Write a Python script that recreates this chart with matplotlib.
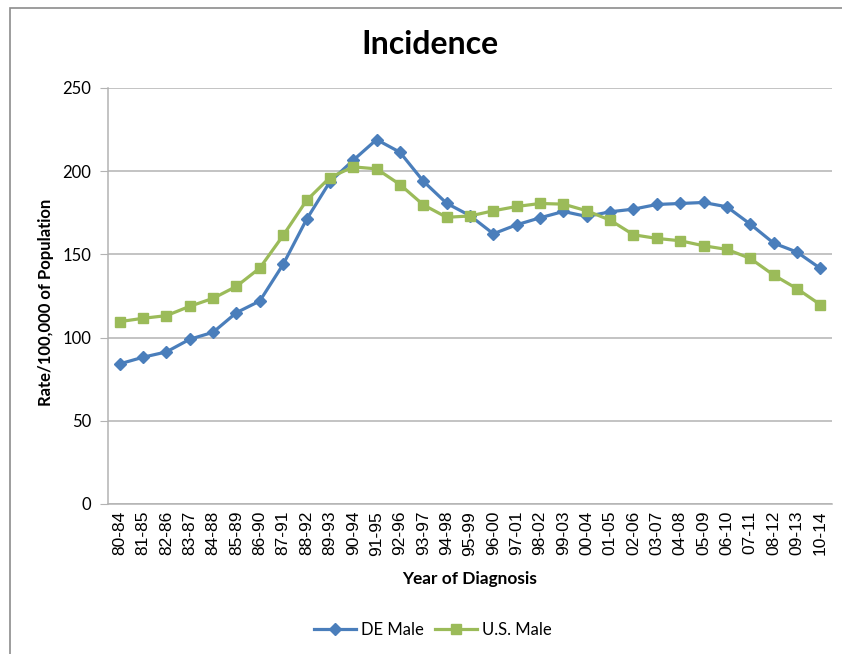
import matplotlib
matplotlib.use("Agg")
import matplotlib.pyplot as plt
from matplotlib.patches import Rectangle

categories = ["80-84", "81-85", "82-86", "83-87", "84-88", "85-89", "86-90", "87-91",
              "88-92", "89-93", "90-94", "91-95", "92-96", "93-97", "94-98", "95-99",
              "96-00", "97-01", "98-02", "99-03", "00-04", "01-05", "02-06", "03-07",
              "04-08", "05-09", "06-10", "07-11", "08-12", "09-13", "10-14"]

de_male = [84.2, 88.2, 91.4, 99.0, 103.2, 115.0, 122.0, 144.0, 171.0, 193.6,
           206.6, 219.0, 211.4, 194.0, 180.7, 173.3, 162.4, 167.8, 172.0, 175.8,
           172.8, 175.6, 177.2, 180.0, 180.6, 181.2, 178.6, 168.2, 156.8, 151.4, 141.6]
us_male = [109.6, 111.6, 113.2, 118.8, 123.6, 130.8, 141.8, 161.4, 182.4, 196.2,
           202.6, 201.4, 192.0, 179.8, 172.3, 173.1, 176.2, 178.8, 180.6, 180.2,
           176.2, 170.6, 161.8, 159.6, 158.2, 155.2, 153.0, 147.6, 137.6, 129.4, 119.8]

yticks = [0, 50, 100, 150, 200, 250]

W, H = 842, 654
fig = plt.figure(figsize=(W / 100, H / 100), dpi=100)
fig.patch.set_facecolor("white")

# outer chart border (partially clipped by figure edge)
fig.patches.append(Rectangle((10 / W, -0.05), 1.2, 1 - 8 / H + 0.05,
                             transform=fig.transFigure, fill=False,
                             edgecolor="#8c8c8c", linewidth=1.2))

ax = fig.add_axes([108 / W, 1 - 504 / H, (832 - 108) / W, (504 - 88) / H])
x = list(range(len(categories)))
ax.plot(x, de_male, color="#4A7EBB", linewidth=2.3, marker="D", markersize=6.5,
        label="DE Male", zorder=3)
ax.plot(x, us_male, color="#9BBB59", linewidth=2.3, marker="s", markersize=7.5,
        label="U.S. Male", zorder=3)

ax.set_xlim(-0.5, len(categories) - 0.5)
ax.set_ylim(0, 250)
ax.set_yticks(yticks)
ax.set_yticklabels([str(v) for v in yticks], family="Lato", fontsize=12)
ax.set_xticks(x)
ax.set_xticklabels(categories, rotation=90, family="Liberation Sans", fontsize=12.5)
ax.yaxis.grid(True, color="#b3b3b3", linewidth=1.1)
ax.set_axisbelow(True)
for s in ["top", "right"]:
    ax.spines[s].set_visible(False)
ax.spines["left"].set_color("#b3b3b3")
ax.spines["bottom"].set_color("#b3b3b3")
ax.spines["left"].set_linewidth(1.1)
ax.spines["bottom"].set_linewidth(1.1)
ax.tick_params(axis="y", length=6, color="#b3b3b3", pad=6)
ax.tick_params(axis="x", length=0, pad=5)

fig.text(430 / W, 1 - 45 / H, "Incidence", ha="center", va="center",
         family="Lato", fontweight="bold", fontsize=23)
fig.text(46 / W, 1 - 302 / H, "Rate/100,000 of Population", ha="center",
         va="center", rotation=90, family="Lato", fontweight="bold", fontsize=12)
fig.text(470 / W, 1 - 579 / H, "Year of Diagnosis", ha="center", va="center",
         family="Lato", fontweight="bold", fontsize=12.4)

leg = fig.legend(loc="center", bbox_to_anchor=(433 / W, 1 - 630 / H), ncol=2,
                 frameon=False, prop={"family": "Lato", "size": 12},
                 handlelength=2.5, columnspacing=0.7, handletextpad=0.3)

fig.savefig("out.png", dpi=100, facecolor="white")
